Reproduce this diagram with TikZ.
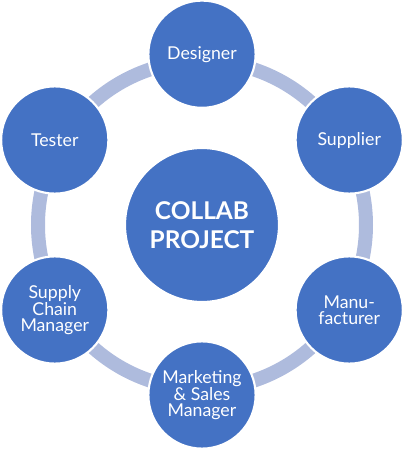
\documentclass[tikz,border=0pt]{standalone}
\usepackage{fontspec}
\setmainfont{Lato}
\usepackage{xcolor}
\usepackage{tikz}
\usetikzlibrary{positioning}
\definecolor{roleblue}{HTML}{4472C4}
\definecolor{ringgray}{HTML}{AEBBDD}

\begin{document}
\begin{tikzpicture}[
    role/.style={circle, draw=white, line width=1.5pt, fill=roleblue, minimum size=2.68cm, inner sep=0pt, align=center, text=white, font=\fontsize{12.6}{11.2}\selectfont},
    hub/.style={circle, draw=white, line width=1.5pt, fill=roleblue, minimum size=3.85cm, inner sep=0pt, align=center, text=white, font=\fontsize{17.4}{21}\selectfont\bfseries},
    ring/.style={line width=0.35cm, draw=ringgray}
]
\useasboundingbox (-5.05,-5.625) rectangle (5.05,5.625);

\draw[ring] (0,0) circle (4.1cm);

\node[hub] (project) at (0,0) {COLLAB\\PROJECT};

\node[role] (designer) at (90:4.27) {Designer};
\node[role] (supplier) at (30:4.25) {Supplier};
\node[role] (manu) at (-30:4.25) {Manu-\\facturer};
\node[role] (marketing) at (-90:4.25) {Marketing\\\& Sales\\Manager};
\node[role] (supplychain) at (210:4.25) {Supply\\Chain\\Manager};
\node[role] (tester) at (150:4.25) {Tester};

\end{tikzpicture}
\end{document}
